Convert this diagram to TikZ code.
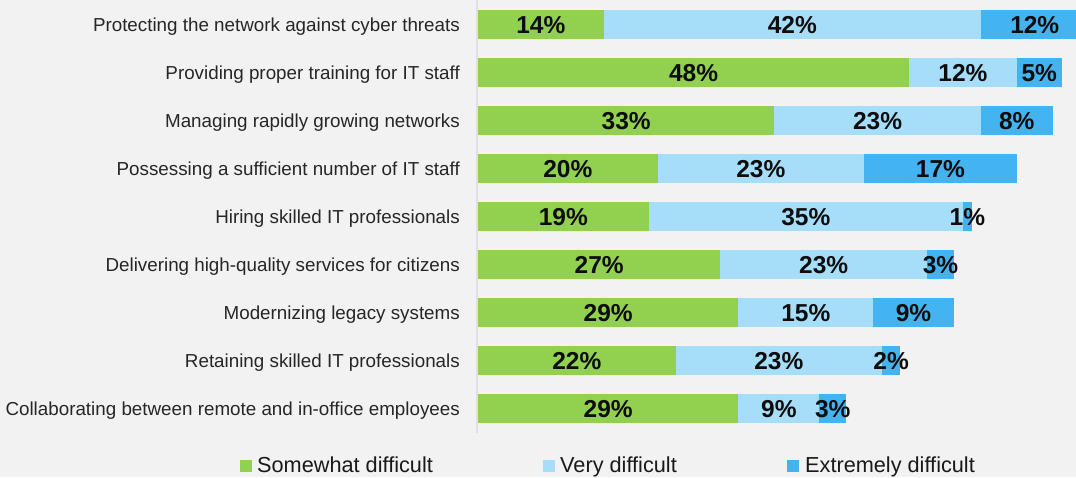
\documentclass[tikz,border=0pt]{standalone}
\usepackage{fontspec}
\setmainfont{Liberation Sans}
\definecolor{somewhat}{RGB}{146,208,80}
\definecolor{very}{RGB}{166,222,250}
\definecolor{extreme}{RGB}{67,180,240}
\definecolor{bg}{RGB}{242,242,242}
\begin{document}
\begin{tikzpicture}[x=1pt, y=-1pt,
    cat/.style={anchor=base east, inner sep=0pt, text=black!85, font=\fontsize{18.8}{20}\selectfont},
    pct/.style={anchor=base, inner sep=0pt, text=black!95, font=\bfseries\fontsize{24.5}{25}\selectfont},
    key/.style={minimum size=12pt, inner sep=0pt},
    keytext/.style={anchor=base west, inner sep=0pt, text=black!90, font=\fontsize{21.7}{23}\selectfont}]
    \fill[bg] (0,0) rectangle (1076,477);
    \useasboundingbox (0,0) rectangle (1076,477);
    \clip (0,0) rectangle (1076,477);
    \draw[black!12, line width=1.5pt] (477,0) -- (477,433);

    \foreach \lab/\a/\b/\c [count=\i from 0] in {
        Protecting the network against cyber threats/14/42/12,
        Providing proper training for IT staff/48/12/5,
        Managing rapidly growing networks/33/23/8,
        Possessing a sufficient number of IT staff/20/23/17,
        Hiring skilled IT professionals/19/35/1,
        Delivering high-quality services for citizens/27/23/3,
        Modernizing legacy systems/29/15/9,
        Retaining skilled IT professionals/22/23/2,
        Collaborating between remote and in-office employees/29/9/3}
    {
        \pgfmathsetmacro\y{24.5+48*\i}
        \pgfmathsetmacro\xa{478+8.98*\a}
        \pgfmathsetmacro\xb{\xa+8.98*\b}
        \pgfmathsetmacro\xc{\xb+8.98*\c}
        \node[cat] (cat\i) at (460,\y+6.5) {\lab};
        \fill[somewhat] (478,\y-14.75) rectangle (\xa,\y+14.75);
        \fill[very] (\xa,\y-14.75) rectangle (\xb,\y+14.75);
        \fill[extreme] (\xb,\y-14.75) rectangle (\xc,\y+14.75);
        \node[pct] (pa\i) at ({(478+\xa)/2},\y+9.2) {\a\%};
        \node[pct] (pb\i) at ({(\xa+\xb)/2},\y+9.2) {\b\%};
        \node[pct] (pc\i) at ({(\xb+\xc)/2},\y+9.2) {\c\%};
    }

    % legend
    \node[key, fill=somewhat] (ka) at (246,466) {};
    \node[keytext] (ta) at (257,472.5) {Somewhat difficult};
    \node[key, fill=very] (kb) at (549,466) {};
    \node[keytext] (tb) at (560,472.5) {Very difficult};
    \node[key, fill=extreme] (kc) at (793,466) {};
    \node[keytext] (tc) at (805,472.5) {Extremely difficult};
\end{tikzpicture}
\end{document}
